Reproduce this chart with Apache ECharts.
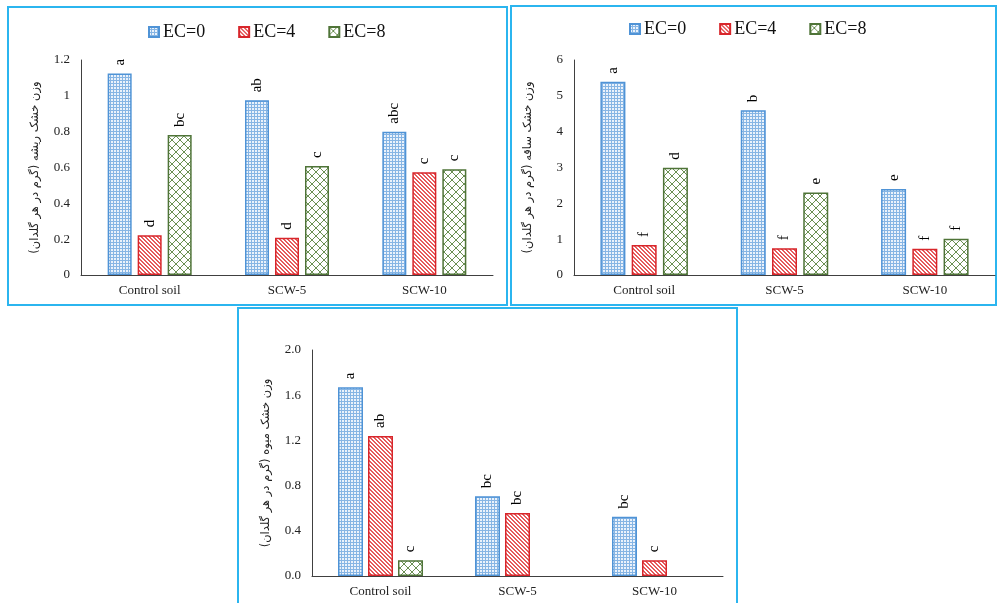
<!DOCTYPE html>
<html>
<head>
<meta charset="utf-8">
<script src="https://cdn.jsdelivr.net/npm/echarts@6/dist/echarts.min.js"></script>
<style>
  html, body { margin: 0; padding: 0; background: #fff; }
  #main { width: 997px; height: 603px; }
</style>
</head>
<body>
<div id="main"></div>
<script>
// categories and series values
var categories = ['Control soil', 'SCW-5', 'SCW-10'];
var seriesNames = ['EC=0', 'EC=4', 'EC=8'];

// root dry weight
var root_ec0 = [1.125, 0.975, 0.80];
var root_ec4 = [0.222, 0.208, 0.573];
var root_ec8 = [0.781, 0.608, 0.59];
var root_ec0_letters = ['a', 'ab', 'abc'];
var root_ec4_letters = ['d', 'd', 'c'];
var root_ec8_letters = ['bc', 'c', 'c'];

// shoot dry weight
var shoot_ec0 = [5.39, 4.60, 2.40];
var shoot_ec4 = [0.84, 0.75, 0.73];
var shoot_ec8 = [2.99, 2.30, 1.01];
var shoot_ec0_letters = ['a', 'b', 'e'];
var shoot_ec4_letters = ['f', 'f', 'f'];
var shoot_ec8_letters = ['d', 'e', 'f'];

// fruit dry weight
var fruit_ec0 = [1.67, 0.705, 0.525];
var fruit_ec4 = [1.239, 0.557, 0.139];
var fruit_ec8 = [0.139, null, null];
var fruit_ec0_letters = ['a', 'bc', 'bc'];
var fruit_ec4_letters = ['ab', 'bc', 'c'];
var fruit_ec8_letters = ['c', '', ''];

var yNames = [
  'وزن خشک ریشه (گرم در هر گلدان)',
  'وزن خشک ساقه (گرم در هر گلدان)',
  'وزن خشک میوه (گرم در هر گلدان)'
];

var serif = '"Liberation Serif", "Times New Roman", serif';

function tile(kind) {
  var c = document.createElement('canvas');
  var ctx = c.getContext('2d');
  var i;
  if (kind === 'dots') {
    c.width = 3; c.height = 3;
    ctx.fillStyle = '#86b5e4';
    ctx.fillRect(0, 0, 3, 3);
    ctx.fillStyle = '#eaf2fb';
    ctx.fillRect(0, 0, 2, 2);
  } else if (kind === 'stripes') {
    c.width = 4; c.height = 4;
    ctx.fillStyle = '#fff';
    ctx.fillRect(0, 0, 4, 4);
    ctx.fillStyle = '#e65a5c';
    for (i = 0; i < 4; i++) {
      ctx.fillRect(i, i, 1, 1);
      ctx.fillRect((i + 1) % 4, i, 1, 1);
    }
  } else {
    c.width = 8; c.height = 8;
    ctx.fillStyle = '#fff';
    ctx.fillRect(0, 0, 8, 8);
    ctx.fillStyle = '#6b9053';
    for (i = 0; i < 8; i++) {
      ctx.fillRect(i, i, 1, 1);
      ctx.fillRect(7 - i, i, 1, 1);
    }
  }
  return { image: c, repeat: 'repeat' };
}

var styles = [
  { color: tile('dots'), borderColor: '#4f93d6', borderWidth: 1.5 },
  { color: tile('stripes'), borderColor: '#d8262b', borderWidth: 1.5 },
  { color: tile('cross'), borderColor: '#4f7438', borderWidth: 1.5 }
];

function makeSeries(gridIdx, values, letters, barWidth, barGap) {
  return values.map(function (vals, k) {
    return {
      name: seriesNames[k],
      type: 'bar',
      xAxisIndex: gridIdx,
      yAxisIndex: gridIdx,
      barWidth: barWidth,
      barGap: barGap,
      itemStyle: styles[k],
      emphasis: { disabled: true },
      data: vals,
      label: {
        show: true,
        position: 'top',
        distance: 8,
        rotate: 90,
        align: 'left',
        verticalAlign: 'middle',
        fontFamily: serif,
        fontSize: 15,
        color: '#000',
        formatter: function (p) { return letters[k][p.dataIndex]; }
      }
    };
  });
}

function xAxis(gridIdx) {
  return {
    type: 'category',
    gridIndex: gridIdx,
    data: categories,
    axisTick: { show: false },
    axisLine: { lineStyle: { color: '#404040', width: 1 } },
    axisLabel: { fontFamily: serif, fontSize: 13, color: '#222', margin: 9 }
  };
}

function yAxis(gridIdx, max, interval, fmt) {
  return {
    type: 'value',
    gridIndex: gridIdx,
    min: 0,
    max: max,
    interval: interval,
    splitLine: { show: false },
    axisTick: { show: false },
    axisLine: { show: true, lineStyle: { color: '#404040', width: 1 } },
    axisLabel: { fontFamily: serif, fontSize: 13, color: '#222', margin: 11, formatter: fmt },
    name: yNames[gridIdx],
    nameLocation: 'middle',
    nameRotate: 90,
    nameGap: 40,
    nameTextStyle: { fontFamily: '"DejaVu Sans", sans-serif', fontSize: 11.5, color: '#222' }
  };
}

function legend(left, top) {
  return {
    left: left,
    top: top,
    data: seriesNames,
    icon: 'rect',
    itemWidth: 10,
    itemHeight: 10,
    itemGap: 33,
    padding: 0,
    selectedMode: false,
    textStyle: { fontFamily: serif, fontSize: 18, color: '#111', padding: [0, 0, 0, -1] }
  };
}

var chart = echarts.init(document.getElementById('main'), null, { renderer: 'canvas' });

var frame = { fill: 'none', stroke: '#2bb5ef', lineWidth: 2 };

chart.setOption({
  animation: false,
  backgroundColor: '#fff',
  graphic: [
    { type: 'rect', shape: { x: 8, y: 7, width: 499, height: 298 }, style: frame, silent: true },
    { type: 'rect', shape: { x: 511, y: 6, width: 485, height: 299 }, style: frame, silent: true },
    { type: 'rect', shape: { x: 238, y: 308, width: 499, height: 310 }, style: frame, silent: true }
  ],
  legend: [legend(148, 23), legend(629, 20)],
  grid: [
    { left: 81, top: 60, width: 412, height: 215 },
    { left: 574, top: 60, width: 421, height: 215 },
    { left: 312, top: 350, width: 411, height: 226 }
  ],
  xAxis: [xAxis(0), xAxis(1), xAxis(2)],
  yAxis: [
    yAxis(0, 1.2, 0.2),
    yAxis(1, 6, 1),
    yAxis(2, 2, 0.4, function (v) { return v.toFixed(1); })
  ],
  series: [].concat(
    makeSeries(0, [root_ec0, root_ec4, root_ec8], [root_ec0_letters, root_ec4_letters, root_ec8_letters], 24, '25%'),
    makeSeries(1, [shoot_ec0, shoot_ec4, shoot_ec8], [shoot_ec0_letters, shoot_ec4_letters, shoot_ec8_letters], 25, '25%'),
    makeSeries(2, [fruit_ec0, fruit_ec4, fruit_ec8], [fruit_ec0_letters, fruit_ec4_letters, fruit_ec8_letters], 25, '20%')
  )
});
</script>
</body>
</html>
